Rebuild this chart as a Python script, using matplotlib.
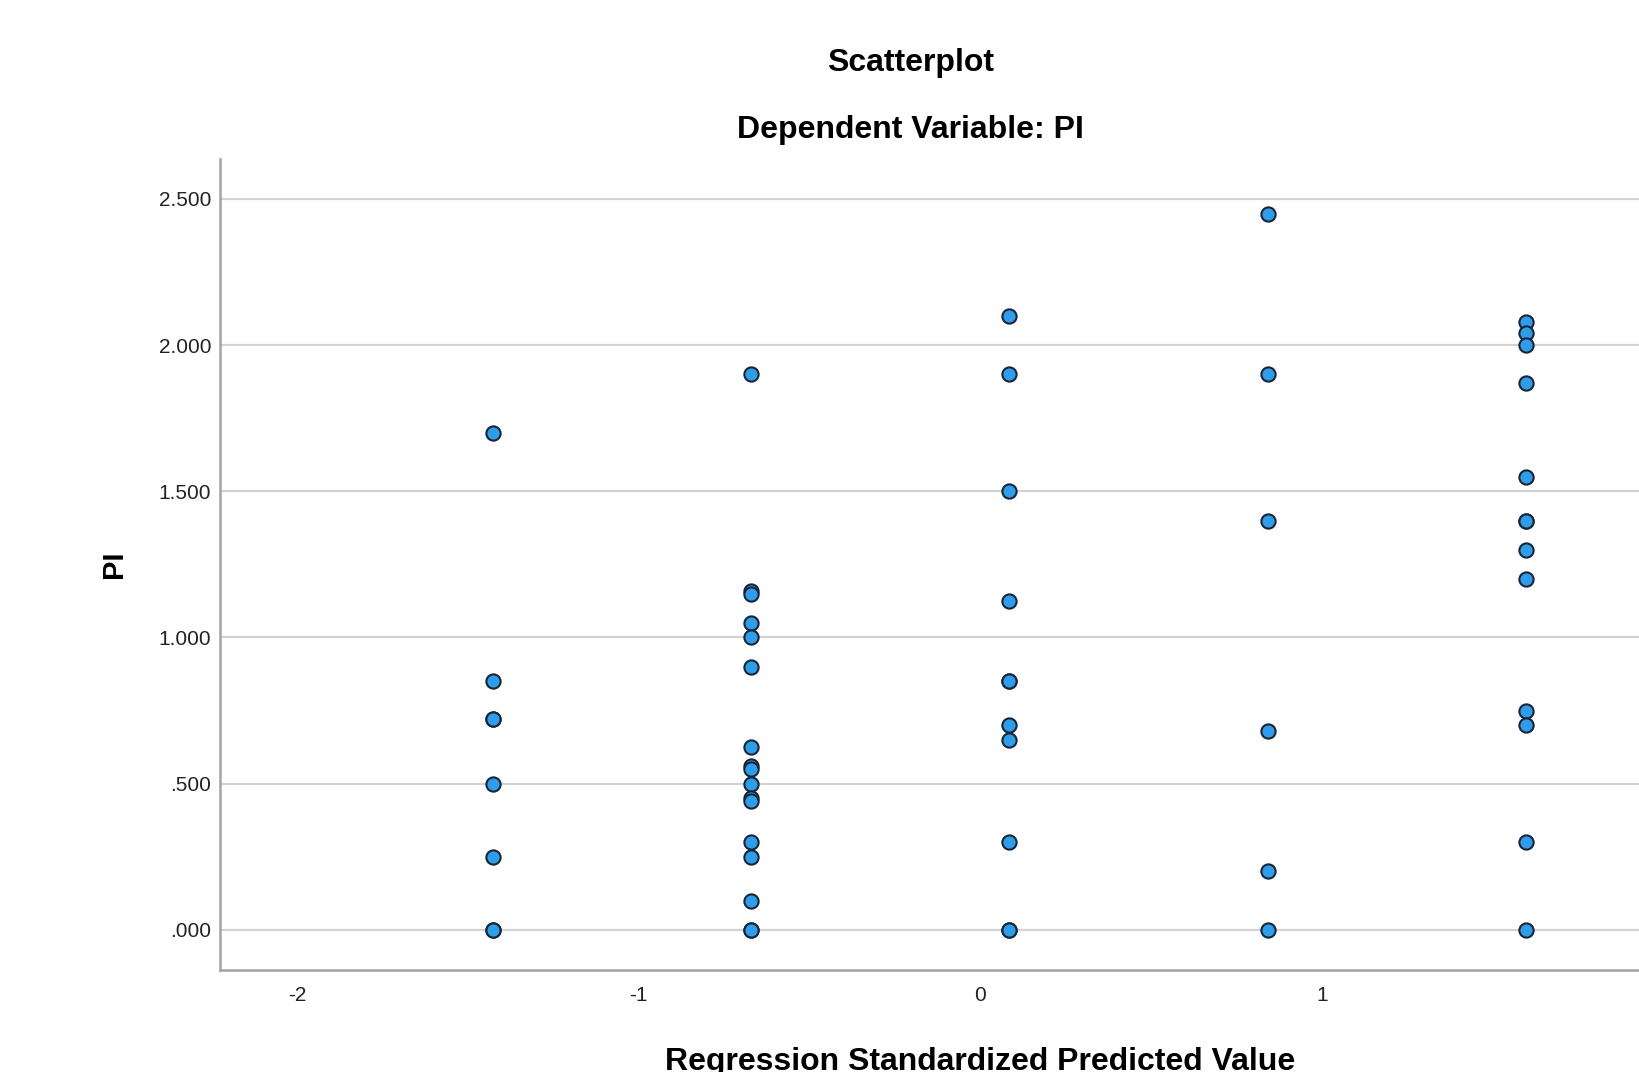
import matplotlib.pyplot as plt

# predicted values (standardized) for the five groups
x_groups = [-1.428, -0.672, 0.085, 0.842, 1.598]

pi_g1 = [1.70, 0.85, 0.72, 0.72, 0.50, 0.25, 0.00, 0.00]
pi_g2 = [1.90, 1.16, 1.15, 1.05, 1.00, 0.90, 0.625, 0.56, 0.55, 0.50,
         0.45, 0.44, 0.30, 0.25, 0.10, 0.00, 0.00]
pi_g3 = [2.10, 1.90, 1.50, 1.125, 0.85, 0.85, 0.70, 0.65, 0.30, 0.00, 0.00]
pi_g4 = [2.45, 1.90, 1.40, 0.68, 0.20, 0.00]
pi_g5 = [2.08, 2.04, 2.00, 1.87, 1.55, 1.40, 1.40, 1.30, 1.20, 0.75,
         0.70, 0.30, 0.00]

groups = [pi_g1, pi_g2, pi_g3, pi_g4, pi_g5]

xs = []
ys = []
for xv, vals in zip(x_groups, groups):
    for v in vals:
        xs.append(xv)
        ys.append(v)

y_ticks = [0.0, 0.5, 1.0, 1.5, 2.0, 2.5]
y_ticklabels = ['.000', '.500', '1.000', '1.500', '2.000', '2.500']
x_ticks = [-2, -1, 0, 1]

plt.rcParams['font.family'] = ['Liberation Sans', 'DejaVu Sans']

fig = plt.figure(figsize=(16.4, 10.72), dpi=100)
ax = fig.add_axes([0.1339, 0.0955, 0.9277, 0.756])

ax.scatter(xs, ys, s=105, color='#2a9ff0', edgecolors='#1b2530',
           linewidths=1.5, zorder=3)

ax.set_xlim(-2.227, 2.227)
ax.set_ylim(-0.136, 2.636)
ax.set_yticks(y_ticks)
ax.set_yticklabels(y_ticklabels)
ax.set_xticks(x_ticks)
ax.set_xticklabels(['-2', '-1', '0', '1'])

ax.grid(axis='y', color='#d2d2d2', linewidth=1.6, zorder=0)
ax.set_axisbelow(True)
for side in ['top', 'right']:
    ax.spines[side].set_visible(False)
for side in ['left', 'bottom']:
    ax.spines[side].set_color('#a3a3a3')
    ax.spines[side].set_linewidth(1.8)

ax.tick_params(axis='both', length=0, labelsize=15, colors='#222222')
ax.tick_params(axis='y', pad=6)
ax.tick_params(axis='x', pad=12)

ax.set_ylabel('PI', fontsize=21, fontweight='bold', labelpad=22)
ax.set_xlabel('Regression Standardized Predicted Value', fontsize=23,
              fontweight='bold', labelpad=30)

fig.text(0.555, 0.941, 'Scatterplot', ha='center', va='center',
         fontsize=23, fontweight='bold')
fig.text(0.555, 0.879, 'Dependent Variable: PI', ha='center', va='center',
         fontsize=23, fontweight='bold')

fig.savefig('out.png', dpi=100)
